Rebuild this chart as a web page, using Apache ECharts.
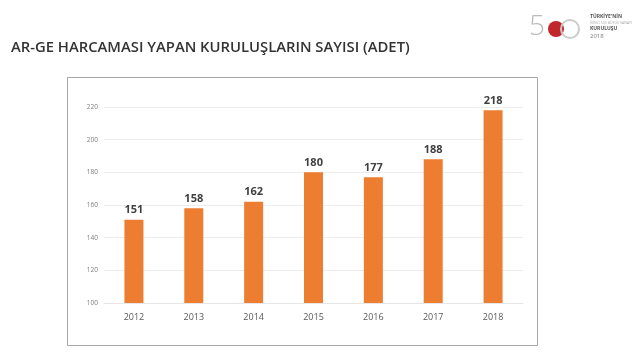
<!DOCTYPE html>
<html><head><meta charset="utf-8">
<script src="https://cdn.jsdelivr.net/npm/echarts@6/dist/echarts.min.js"></script>
<style>html,body{margin:0;padding:0;background:#fff}#c{width:640px;height:360px}</style>
</head><body><div id="c"></div>
<script>
var categories = ['2012','2013','2014','2015','2016','2017','2018'];
var values = [151,158,162,180,177,188,218];
var titleText = 'AR-GE HARCAMASI YAPAN KURULUŞLARIN SAYISI (ADET)';

var chart = echarts.init(document.getElementById('c'), null, {renderer:'canvas'});
chart.setOption({
  backgroundColor:'#fff',
  animation:false,
  title:{text:titleText,left:6,top:35,textStyle:{fontFamily:'Open Sans',fontSize:14.8,fontWeight:600,color:'#333'}},
  graphic:[
    {type:'rect',shape:{x:67.5,y:77.5,width:470,height:268},style:{fill:'none',stroke:'#a6a6a6',lineWidth:1},z:-1},
    {type:'text',left:529,top:13,style:{text:'5',font:'300 28px Open Sans',fill:'#bbb'}},
    {type:'circle',shape:{cx:556,cy:29,r:8},style:{fill:'#c0262c'}},
    {type:'circle',shape:{cx:570,cy:29,r:9},style:{fill:'none',stroke:'#ccc',lineWidth:2}},
    {type:'text',left:590,top:14,style:{text:"TÜRKİYE'NİN",font:'bold 5px Open Sans',fill:'#555'}},
    {type:'text',left:590,top:21,style:{text:'İKİNCİ 500 BÜYÜK SANAYİ',font:'3.5px Open Sans',fill:'#aaa'}},
    {type:'text',left:590,top:26,style:{text:'KURULUŞU',font:'bold 5px Open Sans',fill:'#555'}},
    {type:'text',left:590,top:33,style:{text:'2018',font:'6px Open Sans',fill:'#777'}}
  ],
  grid:{left:104,right:117,top:107,bottom:57},
  xAxis:{type:'category',data:categories,
    axisLine:{show:true,lineStyle:{color:'#e6e6e6'}},axisTick:{show:false},
    axisLabel:{color:'#595959',fontSize:9,fontFamily:'Open Sans',margin:10}},
  yAxis:{type:'value',min:100,max:220,interval:20,
    axisLine:{show:false},axisTick:{show:false},
    axisLabel:{color:'#7f7f7f',fontSize:6.5,fontFamily:'Open Sans',margin:6},
    splitLine:{lineStyle:{color:'#ececec'}}},
  series:[{type:'bar',data:values,barWidth:19,
    itemStyle:{color:'#ED7D31'},
    label:{show:true,position:'top',distance:4,color:'#404040',fontSize:11,fontWeight:'bold',fontFamily:'Open Sans'}}]
});
</script></body></html>
